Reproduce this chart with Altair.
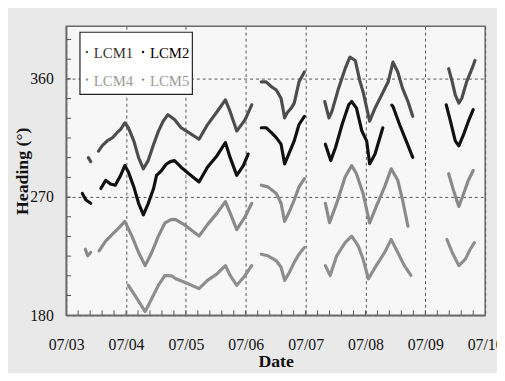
import altair as alt
import pandas as pd

SERIES = ["LCM1", "LCM2", "LCM4", "LCM5"]
COLORS = ["#4d4d4d", "#111111", "#8a8a8a", "#8e8e8e"]
LEGEND_TEXT_COLORS = ["#333333", "#000000", "#9a9a9a", "#9a9a9a"]
X_LABELS = ["07/03", "07/04", "07/05", "07/06", "07/07", "07/08", "07/09", "07/10"]
Y_LABELS = [180, 270, 360]
YEAR = 2010

# days since 07/03 00:00, one inner list per recorded segment
lcm1_days = [
    [0.37, 0.41],
    [0.54, 0.60, 0.69, 0.77, 0.85, 0.91, 0.98, 1.04, 1.13, 1.21, 1.29, 1.37, 1.46, 1.54, 1.62,
     1.70, 1.81, 1.92, 2.05, 2.22, 2.36, 2.52, 2.66, 2.74, 2.85, 2.99, 3.10],
    [3.26, 3.34, 3.43, 3.51, 3.59, 3.65, 3.69, 3.76, 3.81, 3.89, 3.98],
    [4.32, 4.39, 4.44, 4.55, 4.66, 4.74, 4.83, 4.91, 4.96, 5.07, 5.16, 5.27, 5.38, 5.46, 5.54,
     5.62, 5.71, 5.79],
    [6.39, 6.45, 6.50, 6.56, 6.61, 6.69, 6.78, 6.83],
]
lcm1_vals = [
    [300, 297],
    [305, 309, 313, 315, 319, 321.5, 326.5, 322.75, 312.75, 300, 291.5, 297.75, 310, 320, 327.75,
     332.75, 329, 322.75, 319, 314, 325, 335, 344, 335, 320.25, 329, 340.25],
    [357.75, 357.75, 354, 351.5, 345.25, 330.25, 334, 337.75, 341.5, 357.75, 365.25],
    [342.75, 330.25, 335.25, 352.75, 367.75, 376.5, 374, 357.75, 350.25, 327.75, 337.75, 347.75,
     357.75, 372.75, 365.25, 352.75, 342.75, 331.5],
    [367.75, 357.75, 347.75, 341.5, 345.25, 357.75, 367.75, 374],
]

lcm2_days = [
    [0.27, 0.33, 0.41],
    [0.58, 0.66, 0.74, 0.82, 0.91, 0.98, 1.04, 1.13, 1.21, 1.29, 1.37, 1.46, 1.51, 1.59, 1.67,
     1.74, 1.81, 1.92, 2.05, 2.22, 2.36, 2.52, 2.66, 2.74, 2.85, 2.96, 3.04],
    [3.26, 3.34, 3.43, 3.51, 3.59, 3.65, 3.73, 3.81, 3.89, 3.98],
    [4.33, 4.42, 4.50, 4.61, 4.72, 4.77, 4.85, 4.94, 5.02, 5.07, 5.16, 5.29],
    [5.44, 5.46, 5.57, 5.68, 5.79],
    [6.35, 6.42, 6.50, 6.56, 6.64, 6.72, 6.80],
]
lcm2_vals = [
    [272.75, 267.75, 265.25],
    [276.5, 282.75, 280, 279, 286.5, 294, 289, 277.75, 265.25, 256.5, 265, 276.5, 286.5, 290, 295,
     297, 297.75, 292.75, 287.75, 281.5, 292.75, 301.5, 311.5, 300, 286.5, 294, 302.75],
    [322.75, 322.75, 319, 315.25, 310.25, 295.25, 304, 312.75, 325.25, 331.5],
    [310.25, 297.75, 307.75, 325.25, 340.25, 342.75, 337.75, 320.25, 312.75, 295.25, 302.75, 322.75],
    [340, 339, 325.25, 312.75, 300.25],
    [340.25, 327.75, 312.75, 309, 317.75, 327.75, 336.5],
]

lcm4_days = [
    [0.32, 0.36, 0.41],
    [0.55, 0.66, 0.77, 0.88, 0.98, 1.10, 1.21, 1.32, 1.43, 1.54, 1.65, 1.76, 1.83, 1.97, 2.22,
     2.36, 2.52, 2.66, 2.74, 2.85, 2.99, 3.10],
    [3.26, 3.37, 3.51, 3.59, 3.65, 3.73, 3.81, 3.89, 3.98],
    [4.33, 4.40, 4.52, 4.66, 4.77, 4.85, 4.96, 5.07, 5.18, 5.32, 5.43, 5.54, 5.62, 5.71],
    [6.39, 6.47, 6.56, 6.64, 6.72, 6.80],
]
lcm4_vals = [
    [230.25, 225.25, 227.75],
    [229, 236.5, 241.5, 246.5, 251.5, 240, 227.75, 217.75, 227.75, 240.25, 250.25, 253, 252.75,
     249, 240.25, 249, 257.75, 266.5, 257.75, 245.25, 255, 265.25],
    [279, 277.75, 272.75, 265.25, 251.5, 259, 267.75, 277.75, 284],
    [265.25, 250.5, 265.25, 285.25, 294, 287.75, 272.75, 250.25, 262.75, 277.75, 291.5, 282.75,
     267.75, 247.75],
    [287.75, 275.25, 262.75, 272.75, 282.75, 290.25],
]

lcm5_days = [
    [1.04, 1.18, 1.32, 1.43, 1.54, 1.65, 1.76, 1.83, 1.97, 2.22, 2.36, 2.52, 2.66, 2.74, 2.85,
     2.99, 3.10],
    [3.26, 3.37, 3.51, 3.59, 3.65, 3.73, 3.81, 3.89, 3.98],
    [4.33, 4.41, 4.52, 4.66, 4.77, 4.88, 4.96, 5.05, 5.18, 5.32, 5.43, 5.54, 5.65, 5.76],
    [6.36, 6.45, 6.56, 6.67, 6.75, 6.82],
]
lcm5_vals = [
    [202.75, 192.75, 182.75, 192.75, 202.75, 210.25, 210, 207.75, 205.25, 200.25, 206.5, 211.5,
     217.75, 210.25, 202.75, 210.25, 217.75],
    [226.5, 225.25, 221.5, 216.5, 206.5, 212.75, 220.25, 226.5, 231.5],
    [217.75, 210.25, 225.25, 235.25, 240.25, 232.75, 222.75, 207.75, 217.75, 227.75, 237.75,
     227.75, 217.75, 210.25],
    [237.75, 227.75, 217.75, 222.75, 230.25, 235.25],
]

# ---- build tables ----
first_month, first_day = (int(p) for p in X_LABELS[0].split("/"))
base = pd.Timestamp(year=YEAR, month=first_month, day=first_day)
FMT = "%Y-%m-%dT%H:%M:%S"
rows = []
for name, dd, vv in [("LCM1", lcm1_days, lcm1_vals), ("LCM2", lcm2_days, lcm2_vals),
                     ("LCM4", lcm4_days, lcm4_vals), ("LCM5", lcm5_days, lcm5_vals)]:
    for k, (ds, vs) in enumerate(zip(dd, vv)):
        for d, v in zip(ds, vs):
            t = base + pd.to_timedelta(d, unit="D")
            rows.append({"series": name, "seg": f"{name}-{k}", "time": t.strftime(FMT),
                         "heading": v})
df = pd.DataFrame(rows)


def dt(ts):
    return alt.DateTime(year=ts.year, month=ts.month, date=ts.day,
                        hours=ts.hour, minutes=ts.minute)


major_ts = [pd.Timestamp(year=YEAR, month=int(l.split("/")[0]), day=int(l.split("/")[1]))
            for l in X_LABELS]
major_x = [dt(t) for t in major_ts]
minor_x_df = pd.DataFrame({"time": [(base + pd.to_timedelta(i * 288, unit="min")).strftime(FMT)
                                    for i in range(1, len(X_LABELS) * 5 - 5)]})
minor_y_df = pd.DataFrame({"heading": list(range(Y_LABELS[0] + 15, 400, 15))})
x_domain = [major_x[0], major_x[-1]]
y_domain = [Y_LABELS[0], 400]

FONT = "Liberation Serif"
W, H = 425, 293
TICK_LEN = 5
TICK_COLOR = "#555555"

x_scale = alt.Scale(domain=x_domain, nice=False)
y_scale = alt.Scale(domain=y_domain, nice=False, zero=False)

x_axis = alt.Axis(values=major_x, format="%m/%d", title="Date", ticks=False,
                  grid=True, gridDash=[3, 3], gridColor="#555555", gridWidth=1,
                  labelFont=FONT, labelFontSize=16, labelColor="#111111",
                  labelPadding=22, titlePadding=0, labelFlush=False,
                  labelOverlap=False, titleFont=FONT, titleFontSize=18,
                  titleFontWeight="bold", titleColor="#111111",
                  domainColor="#6a6a6a", domainWidth=1.5)
y_axis = alt.Axis(values=Y_LABELS, title="Heading (°)", ticks=False,
                  grid=True, gridDash=[3, 3], gridColor="#555555", gridWidth=1,
                  labelFont=FONT, labelFontSize=16, labelColor="#111111",
                  labelPadding=13, labelFlush=False, labelOverlap=False,
                  titleX=-35, titleFont=FONT, titleFontSize=18,
                  titleFontWeight="bold", titleColor="#111111",
                  domainColor="#6a6a6a", domainWidth=1.5)

lines = alt.Chart(df).mark_line(
    strokeWidth=3.2, strokeJoin="round", strokeCap="round", clip=True
).encode(
    x=alt.X("time:T", scale=x_scale, axis=x_axis),
    y=alt.Y("heading:Q", scale=y_scale, axis=y_axis),
    color=alt.Color("series:N", scale=alt.Scale(domain=SERIES, range=COLORS), legend=None),
    detail="seg:N",
    order="time:T",
)

# inward minor ticks along the bottom and left edges (same axis objects, so axes merge)
x_ticks = alt.Chart(minor_x_df).mark_rule(color=TICK_COLOR, strokeWidth=1).encode(
    x=alt.X("time:T", scale=x_scale, axis=x_axis),
    y=alt.value(H), y2=alt.value(H - TICK_LEN),
)
y_ticks = alt.Chart(minor_y_df).mark_rule(color=TICK_COLOR, strokeWidth=1).encode(
    y=alt.Y("heading:Q", scale=y_scale, axis=y_axis),
    x=alt.value(0), x2=alt.value(TICK_LEN),
)

# legend box (2 x 2), drawn inside the plot area
one = pd.DataFrame({"k": [0]})
LEG_X0, LEG_Y0, LEG_W, LEG_H = 14, 6, 114, 63
COL_X = [21, 78]
ROW_Y = [26, 54]
legend_layers = [
    alt.Chart(one).mark_rect(fill="#ffffff", stroke="#222222", strokeWidth=1.2).encode(
        x=alt.value(LEG_X0), x2=alt.value(LEG_X0 + LEG_W),
        y=alt.value(LEG_Y0), y2=alt.value(LEG_Y0 + LEG_H))
]
for i, (name, col, tcol) in enumerate(zip(SERIES, COLORS, LEGEND_TEXT_COLORS)):
    cx, cy = COL_X[i % 2], ROW_Y[i // 2]
    legend_layers.append(
        alt.Chart(one).mark_point(filled=True, size=6, color=col, opacity=1).encode(
            x=alt.value(cx), y=alt.value(cy)))
    legend_layers.append(
        alt.Chart(one).mark_text(text=name, font=FONT, fontSize=15, color=tcol,
                                 align="left", baseline="middle").encode(
            x=alt.value(cx + 7), y=alt.value(cy + 1)))

chart = alt.layer(lines, x_ticks, y_ticks, *legend_layers).properties(
    width=W, height=H,
    background="#e9e9e9",
    autosize=alt.AutoSizeParams(type="none"),
    padding={"left": 59, "top": 16, "right": 12, "bottom": 56},
).configure_view(
    fill="#f7f7f7", stroke="#6a6a6a", strokeWidth=1.5
)

chart.save("out.html", embed_options={"renderer": "svg", "actions": False})
